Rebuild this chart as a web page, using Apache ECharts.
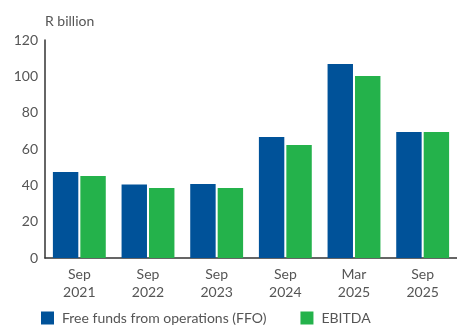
<!DOCTYPE html>
<html><head><meta charset="utf-8">
<script src="https://cdn.jsdelivr.net/npm/echarts@6/dist/echarts.min.js"></script>
<style>html,body{margin:0;padding:0;background:#fff}#c{width:457px;height:325px}</style>
</head><body><div id="c"></div>
<script>
const categories = ['Sep\n2021','Sep\n2022','Sep\n2023','Sep\n2024','Mar\n2025','Sep\n2025'];
const ffo = [47.3, 40.4, 40.7, 66.6, 106.8, 69.3];
const ebitda = [45.1, 38.5, 38.5, 62.2, 100.2, 69.3];
const yTicks = [0, 20, 40, 60, 80, 100, 120];
const seriesNames = ['Free funds from operations (FFO)', 'EBITDA'];

const chart = echarts.init(document.getElementById('c'), null, {renderer:'canvas'});
const font = 'Lato, "Open Sans", sans-serif';
chart.setOption({
  animation:false,
  textStyle:{fontFamily:font},
  title:{text:'R billion', left:40, top:9, textStyle:{fontFamily:font, fontSize:14, fontWeight:'normal', color:'#555'}},
  grid:{left:45, right:-8, top:40, bottom:325-258, containLabel:false},
  legend:{left:41, top:311, padding:0, itemWidth:13, itemHeight:13, itemGap:34, icon:'rect',
    textStyle:{fontFamily:font, fontSize:14, color:'#555', padding:[0,0,0,3]},
    data:seriesNames},
  xAxis:{type:'category', data:categories,
    axisLine:{lineStyle:{color:'#333', width:1.5}}, axisTick:{show:false},
    axisLabel:{fontFamily:font, fontSize:14, color:'#555', lineHeight:18, margin:7}},
  yAxis:{type:'value', min:yTicks[0], max:yTicks[yTicks.length-1], interval:20,
    axisLine:{show:true, lineStyle:{color:'#333', width:1.5}}, axisTick:{show:false},
    splitLine:{show:false},
    axisLabel:{fontFamily:font, fontSize:14, color:'#555', margin:7}},
  series:[
    {name:seriesNames[0], type:'bar', data:ffo, itemStyle:{color:'#005299'}, barGap:'8%', barCategoryGap:'23%'},
    {name:seriesNames[1], type:'bar', data:ebitda, itemStyle:{color:'#24B24B'}}
  ]
});
</script></body></html>
